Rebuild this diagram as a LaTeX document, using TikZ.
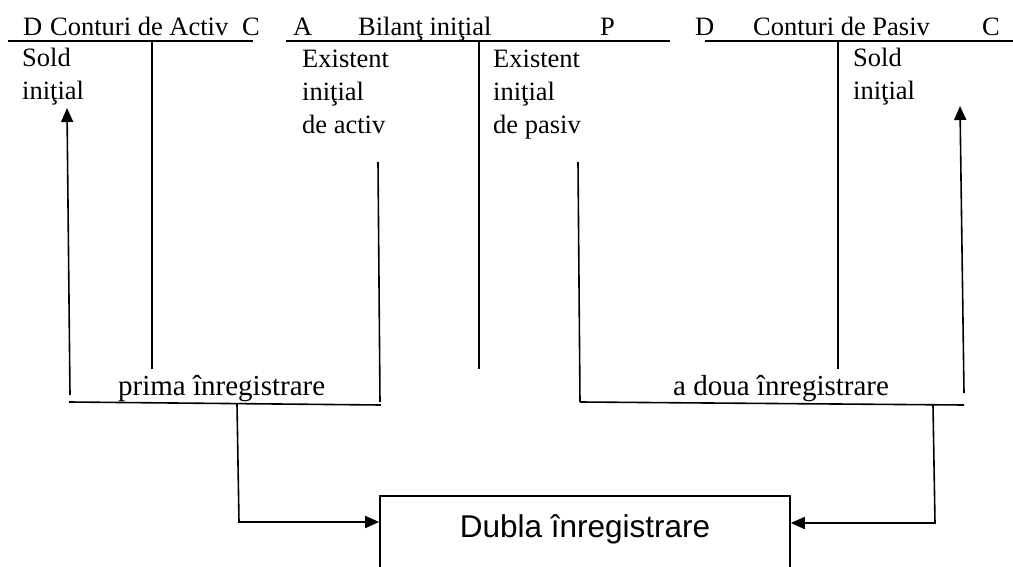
\documentclass[tikz,border=0pt]{standalone}
\usepackage{fontspec}
\setmainfont{Liberation Serif}
\newfontfamily\boxfont{Liberation Sans}
\usetikzlibrary{arrows.meta}
\begin{document}
\begin{tikzpicture}[x=1pt,y=-1pt,
  line/.style={line width=1.6pt},
  arr/.style={line width=1.6pt,-{Triangle[length=14pt,width=12pt]}},
  hdr/.style={anchor=base west,inner sep=0pt,font=\fontsize{26.5}{26.5}\selectfont},
  body/.style={anchor=base west,inner sep=0pt,align=left,
    font=\fontsize{26.5}{33}\selectfont},
  lbl/.style={anchor=base west,inner sep=0pt,font=\fontsize{29}{29}\selectfont}]
\useasboundingbox (0,0) rectangle (1013,567);

% account headings
\node[hdr] (d1) at (23,35.5) {D};
\node[hdr] (t1) at (50,35.5) {Conturi de Activ};
\node[hdr] (c1) at (242,35.5) {C};
\node[hdr] (a2) at (293,35.5) {A};
\node[hdr] (t2) at (358,35.5) {Bilanţ iniţial};
\node[hdr] (p2) at (600,35.5) {P};
\node[hdr] (d3) at (695,35.5) {D};
\node[hdr] (t3) at (753,35.5) {Conturi de Pasiv};
\node[hdr] (c3) at (982,35.5) {C};

% T-account bars
\coordinate (h1a) at (8,41);   \coordinate (h1b) at (253,41);
\coordinate (h2a) at (286,41); \coordinate (h2b) at (670,41);
\coordinate (h3a) at (705,41); \coordinate (h3b) at (1013,41);
\draw[line] (h1a) -- (h1b);
\draw[line] (h2a) -- (h2b);
\draw[line] (h3a) -- (h3b);
\coordinate (s1) at (152,41); \coordinate (s1e) at (152,369);
\coordinate (s2) at (479,41); \coordinate (s2e) at (479,369);
\coordinate (s3) at (838,41); \coordinate (s3e) at (838,369);
\draw[line] (s1) -- (s1e);
\draw[line] (s2) -- (s2e);
\draw[line] (s3) -- (s3e);

% account contents (anchored at the baseline of the last line)
\node[body] (sold1) at (22,100) {Sold\\iniţial};
\node[body] (exa) at (302,133.5) {Existent\\iniţial\\de activ};
\node[body] (exp) at (493,133.5) {Existent\\iniţial\\de pasiv};
\node[body] (sold3) at (853,100) {Sold\\iniţial};

% first entry bracket
\coordinate (b1l) at (70,395);  \coordinate (b1t) at (67,108);
\coordinate (b1r) at (378,162); \coordinate (b1rb) at (380,402);
\coordinate (u1a) at (69,402);  \coordinate (u1b) at (381,405);
\draw[arr] (b1l) -- (b1t);
\draw[line] (b1r) -- (b1rb);
\draw[line] (u1a) -- (u1b);
\node[lbl] (prima) at (118,395) {prima înregistrare};

% second entry bracket
\coordinate (b2l) at (578,162); \coordinate (b2lb) at (580,402);
\coordinate (b2r) at (964,393); \coordinate (b2t) at (960,106);
\coordinate (u2a) at (580,402); \coordinate (u2b) at (964,405);
\draw[line] (b2l) -- (b2lb);
\draw[arr] (b2r) -- (b2t);
\draw[line] (u2a) -- (u2b);
\node[lbl] (adoua) at (673,395) {a doua înregistrare};

% result box (runs past the lower edge)
\node[draw,line width=1.6pt,anchor=base,inner sep=0pt,minimum width=410pt,
  text height=41pt,text depth=63pt,font=\boxfont\fontsize{31.5}{31.5}\selectfont]
  (dubla) at (585,537) {Dubla înregistrare};

% links to the box
\coordinate (j1) at (237,404); \coordinate (k1) at (239,522);
\coordinate (j2) at (933,405); \coordinate (k2) at (935,523);
\draw[arr] (j1) -- (k1) -- (k1 -| dubla.west);
\draw[arr] (j2) -- (k2) -- (k2 -| dubla.east);
\end{tikzpicture}
\end{document}
